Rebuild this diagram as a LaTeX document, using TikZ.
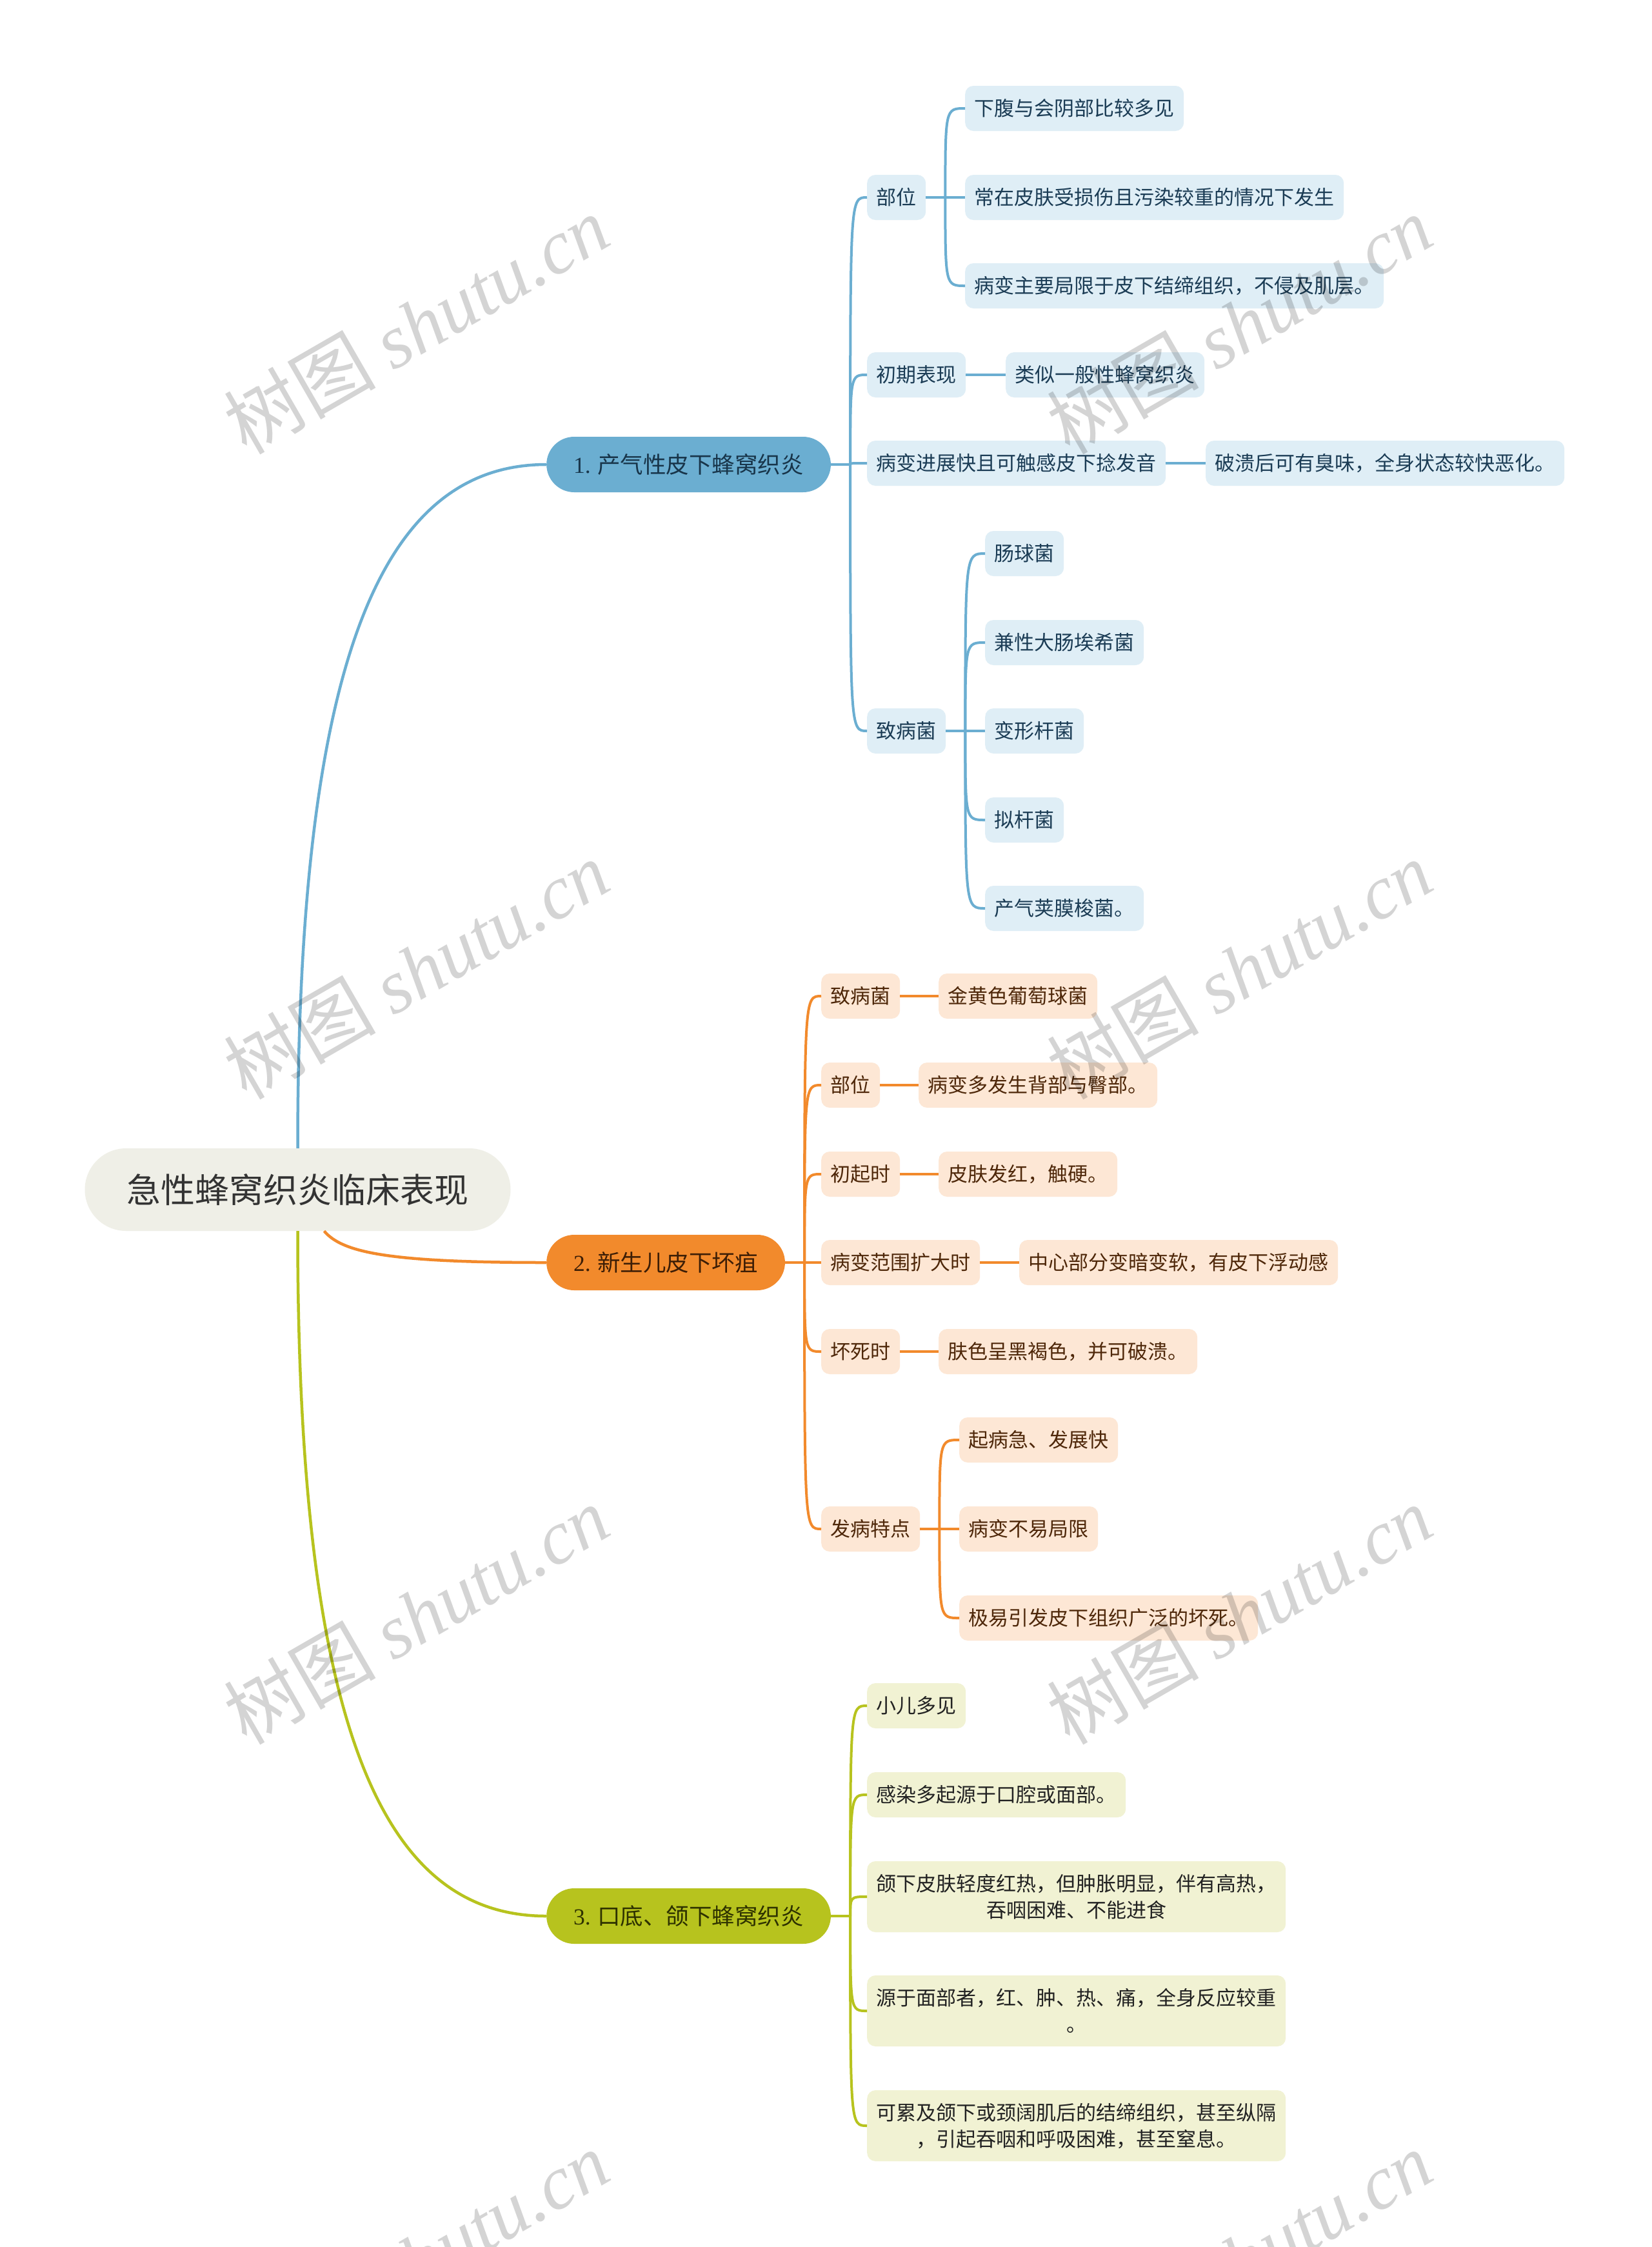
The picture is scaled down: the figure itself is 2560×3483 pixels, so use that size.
\documentclass[tikz,border=0pt]{standalone}
\usepackage{fontspec}
\setmainfont{Noto Sans CJK SC}
\newfontfamily\serifn{Liberation Serif}
\usetikzlibrary{calc}

\definecolor{rootfill}{HTML}{EFEFE7}
\definecolor{roottext}{HTML}{333333}
\definecolor{cB}{HTML}{6BAED1}
\definecolor{cO}{HTML}{F28A2C}
\definecolor{cG}{HTML}{B7C31E}
\definecolor{lB}{HTML}{DFEEF6}
\definecolor{lO}{HTML}{FDE7D5}
\definecolor{lG}{HTML}{F1F2D3}
\definecolor{tB}{HTML}{1B3C55}
\definecolor{tO}{HTML}{4E2709}
\definecolor{tG}{HTML}{222222}
\definecolor{btB}{HTML}{18354A}
\definecolor{btO}{HTML}{3D1E06}
\definecolor{btG}{HTML}{2E3200}

\newcommand\fan[3]{%
  \draw[#1] (#2.east) -- ++(30,0) coordinate (#2-s);
  \foreach \ch in {#3} {\draw[#1] (#2-s) .. controls (#2-s |- \ch.west) .. (\ch.west);}
}

\tikzset{
  rootbox/.style={fill=rootfill, text=roottext, rounded corners=64pt, minimum height=128pt,
    inner xsep=65pt, inner ysep=4pt, font=\fontsize{53}{60}\selectfont},
  branch/.style={rounded corners=43pt, minimum height=86pt, inner xsep=42pt, inner ysep=4pt,
    anchor=west, font=\fontsize{35.5}{42}\selectfont},
  branchB/.style={branch, fill=cB, text=btB},
  branchO/.style={branch, fill=cO, text=btO},
  branchG/.style={branch, fill=cG, text=btG},
  leaf/.style={rounded corners=13pt, minimum height=70pt, inner xsep=14.5pt, inner ysep=4pt,
    anchor=west, font=\fontsize{31}{41}\selectfont, align=center},
  leafB/.style={leaf, fill=lB, text=tB},
  leafO/.style={leaf, fill=lO, text=tO},
  leafG/.style={leaf, fill=lG, text=tG},
  tall/.style={minimum height=110pt},
  link/.style={line width=4pt},
  linkB/.style={link, draw=cB},
  linkO/.style={link, draw=cO},
  linkG/.style={link, draw=cG},
  mainlink/.style={line width=4.5pt},
  wm/.style={text=black, opacity=0.17, font=\fontsize{118}{120}\selectfont, rotate=30}
}

\begin{document}
\begin{tikzpicture}[x=1pt,y=-1pt]
\fill[white] (0,0) rectangle (2560,3483);
\useasboundingbox (0,0) rectangle (2560,3483);
\clip (0,0) rectangle (2560,3483);

% root and main branches
\node[rootbox] (root) at (461.5,1844) {急性蜂窝织炎临床表现};
\node[branchB] (b1) at (847,720) {{\serifn 1.} 产气性皮下蜂窝织炎};
\node[branchO] (b2) at (847,1957) {{\serifn 2.} 新生儿皮下坏疽};
\node[branchG] (b3) at (847,2970) {{\serifn 3.} 口底、颌下蜂窝织炎};

% branch 1
\node[leafB] (b1a) at (1344,306) {部位};
\node[leafB] (b1a1) at (1496,168) {下腹与会阴部比较多见};
\node[leafB] (b1a2) at (1496,306) {常在皮肤受损伤且污染较重的情况下发生};
\node[leafB] (b1a3) at (1496,443) {病变主要局限于皮下结缔组织，不侵及肌层。};
\node[leafB] (b1b) at (1344,581) {初期表现};
\node[leafB] (b1b1) at (1559,581) {类似一般性蜂窝织炎};
\node[leafB] (b1c) at (1344,718) {病变进展快且可触感皮下捻发音};
\node[leafB] (b1c1) at (1869,718) {破溃后可有臭味，全身状态较快恶化。};
\node[leafB] (b1d) at (1344,1133) {致病菌};
\node[leafB] (b1d1) at (1527,858) {肠球菌};
\node[leafB] (b1d2) at (1527,996) {兼性大肠埃希菌};
\node[leafB] (b1d3) at (1527,1133) {变形杆菌};
\node[leafB] (b1d4) at (1527,1271) {拟杆菌};
\node[leafB] (b1d5) at (1527,1408) {产气荚膜梭菌。};

% branch 2
\node[leafO] (b2a) at (1273,1544) {致病菌};
\node[leafO] (b2a1) at (1455,1544) {金黄色葡萄球菌};
\node[leafO] (b2b) at (1273,1682) {部位};
\node[leafO] (b2b1) at (1424,1682) {病变多发生背部与臀部。};
\node[leafO] (b2c) at (1273,1820) {初起时};
\node[leafO] (b2c1) at (1455,1820) {皮肤发红，触硬。};
\node[leafO] (b2d) at (1273,1957) {病变范围扩大时};
\node[leafO] (b2d1) at (1580,1957) {中心部分变暗变软，有皮下浮动感};
\node[leafO] (b2e) at (1273,2095) {坏死时};
\node[leafO] (b2e1) at (1455,2095) {肤色呈黑褐色，并可破溃。};
\node[leafO] (b2f) at (1273,2370) {发病特点};
\node[leafO] (b2f1) at (1487,2232) {起病急、发展快};
\node[leafO] (b2f2) at (1487,2370) {病变不易局限};
\node[leafO] (b2f3) at (1487,2508) {极易引发皮下组织广泛的坏死。};

% branch 3
\node[leafG] (b3a) at (1344,2644) {小儿多见};
\node[leafG] (b3b) at (1344,2782) {感染多起源于口腔或面部。};
\node[leafG,tall] (b3c) at (1344,2940) {颌下皮肤轻度红热，但肿胀明显，伴有高热，\\吞咽困难、不能进食};
\node[leafG,tall] (b3d) at (1344,3117) {源于面部者，红、肿、热、痛，全身反应较重\\。};
\node[leafG,tall] (b3e) at (1344,3295) {可累及颌下或颈阔肌后的结缔组织，甚至纵隔\\，引起吞咽和呼吸困难，甚至窒息。};

% root connectors
\draw[linkB,mainlink] (root.north) .. controls +(0,-780) and ($(b1.west)+(-247,0)$) .. (b1.west);
\draw[linkO,mainlink] ($(root.south)+(41,0)$) .. controls +(28,33) and ($(b2.west)+(-247,0)$) .. (b2.west);
\draw[linkG,mainlink] (root.south) .. controls +(0,790) and ($(b3.west)+(-247,0)$) .. (b3.west);

% fans
\fan{linkB}{b1}{b1a,b1b,b1c,b1d}
\fan{linkB}{b1a}{b1a1,b1a2,b1a3}
\fan{linkB}{b1b}{b1b1}
\fan{linkB}{b1c}{b1c1}
\fan{linkB}{b1d}{b1d1,b1d2,b1d3,b1d4,b1d5}
\fan{linkO}{b2}{b2a,b2b,b2c,b2d,b2e,b2f}
\fan{linkO}{b2a}{b2a1}
\fan{linkO}{b2b}{b2b1}
\fan{linkO}{b2c}{b2c1}
\fan{linkO}{b2d}{b2d1}
\fan{linkO}{b2e}{b2e1}
\fan{linkO}{b2f}{b2f1,b2f2,b2f3}
\fan{linkG}{b3}{b3a,b3b,b3c,b3d,b3e}

% watermarks
\foreach \wy [count=\k] in {503,1503,2503,3503} {
  \node[wm] (wmL\k) at (645,\wy) {树图 {\serifn\itshape shutu.cn}};
  \node[wm] (wmR\k) at (1921,\wy) {树图 {\serifn\itshape shutu.cn}};
}
\end{tikzpicture}
\end{document}
